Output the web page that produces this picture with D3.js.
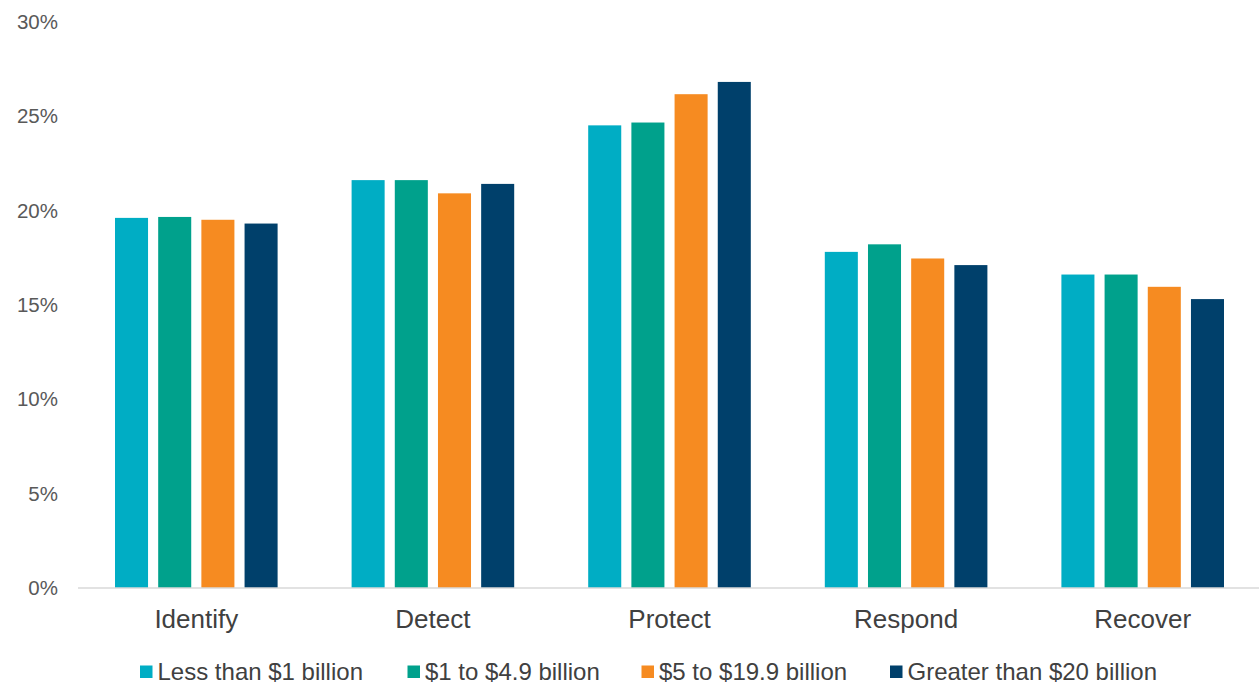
<!DOCTYPE html>
<html>
<head>
<meta charset="utf-8">
<script src="https://cdn.jsdelivr.net/npm/d3@7"></script>
<style>
  html, body { margin: 0; padding: 0; background: #fff; }
  svg { display: block; font-family: "Liberation Sans", Arial, sans-serif; }
</style>
</head>
<body>
<svg id="chart" width="1259" height="688"></svg>
<script>
// Share of spend by function, grouped by company revenue
const categories = ["Identify", "Detect", "Protect", "Respond", "Recover"];
const seriesNames = ["Less than $1 billion", "$1 to $4.9 billion", "$5 to $19.9 billion", "Greater than $20 billion"];
const lessThan1B   = [19.6, 21.6, 24.5, 17.8, 16.6];
const from1to4_9B  = [19.65, 21.6, 24.65, 18.2, 16.6];
const from5to19_9B = [19.5, 20.9, 26.15, 17.45, 15.95];
const over20B      = [19.3, 21.4, 26.8, 17.1, 15.3];
const yTicks = [0, 5, 10, 15, 20, 25, 30];
const colors = ["#00adc4", "#00a18c", "#f68b21", "#00406b"];

const seriesValues = [lessThan1B, from1to4_9B, from5to19_9B, over20B];

const svg = d3.select("#chart");
const margin = { top: 21.5, left: 78 };
const plotBottom = 588;

const x0 = d3.scaleBand().domain(categories).range([margin.left, 1261]).paddingInner(0).paddingOuter(0);
const x1 = d3.scaleBand().domain(d3.range(seriesNames.length)).range([37, x0.bandwidth() - 37]).paddingInner(0.235).paddingOuter(0);
const y = d3.scaleLinear().domain([0, 30]).range([plotBottom, margin.top]);

// Y axis labels
const yAxis = d3.axisLeft(y).tickValues(yTicks).tickFormat(d => d + "%").tickSize(0).tickPadding(0);
const yg = svg.append("g").attr("transform", "translate(58,0)").call(yAxis);
yg.select(".domain").remove();
yg.selectAll("text").attr("fill", "#595959").style("font-size", "20.5px")
  .attr("font-family", "Liberation Sans, Arial, sans-serif").attr("dy", "0.33em");

// Bars
const groups = svg.append("g").selectAll("g")
  .data(categories)
  .join("g")
  .attr("transform", d => `translate(${x0(d)},0)`);

groups.selectAll("rect")
  .data((c, ci) => seriesValues.map((vals, si) => ({ si, v: vals[ci] })))
  .join("rect")
  .attr("x", d => x1(d.si))
  .attr("width", x1.bandwidth())
  .attr("y", d => y(d.v))
  .attr("height", d => y(0) - y(d.v))
  .attr("fill", d => colors[d.si]);

// X axis baseline and category labels
const xAxis = d3.axisBottom(x0).tickSize(0).tickPadding(0);
const xg = svg.append("g").attr("transform", `translate(0,${plotBottom})`).call(xAxis);
xg.select(".domain").attr("stroke", "#d9d9d9").attr("stroke-width", 1.5).attr("d", `M${margin.left},0H1259`);
xg.selectAll("text").attr("fill", "#404040").style("font-size", "26px").attr("y", 40).attr("dy", null)
  .attr("font-family", "Liberation Sans, Arial, sans-serif");

// Legend
const legendX = [140, 407.5, 641.5, 890];
const legend = svg.append("g").selectAll("g")
  .data(seriesNames)
  .join("g")
  .attr("transform", (d, i) => `translate(${legendX[i]},672)`);
legend.append("rect").attr("x", 0).attr("y", -6.5).attr("width", 12.5).attr("height", 12.5).attr("fill", (d, i) => colors[i]);
legend.append("text").attr("x", 17.5).attr("y", 8)
  .attr("fill", "#404040").style("font-size", "24px").text(d => d);
</script>
</body>
</html>
